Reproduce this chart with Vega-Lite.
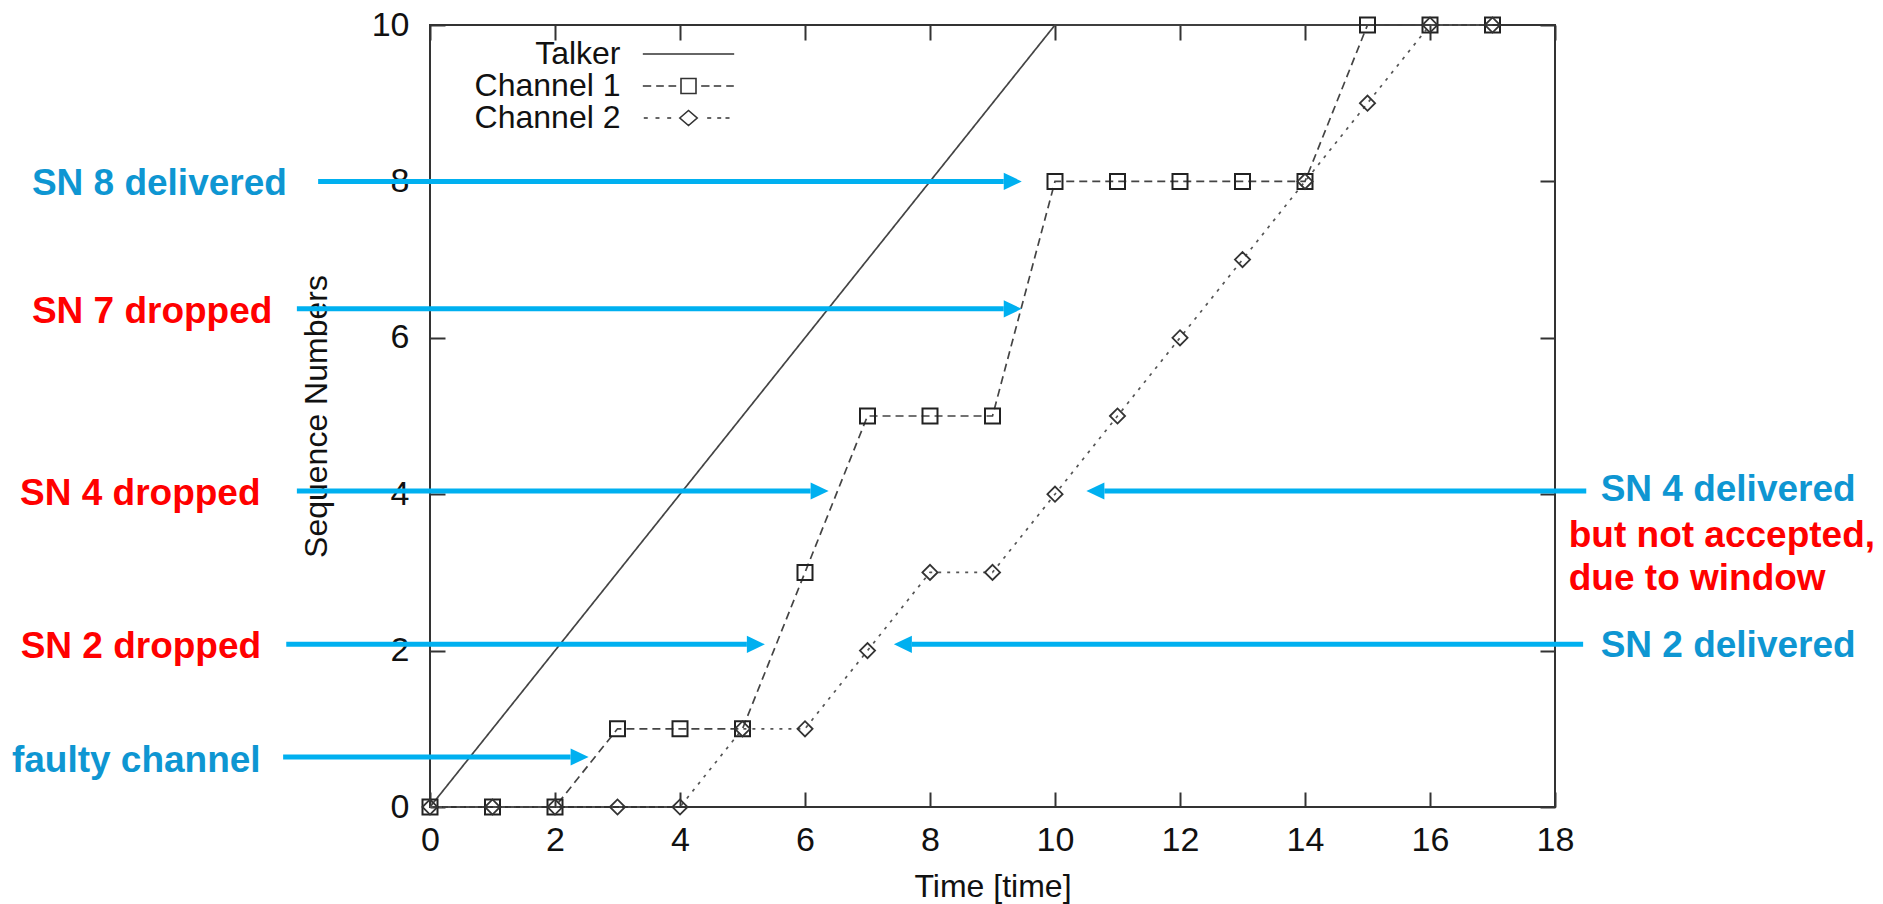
{
  "$schema": "https://vega.github.io/schema/vega-lite/v6.json",
  "width": 1125,
  "height": 782,
  "autosize": {"type": "none"},
  "padding": {"left": 430, "top": 25, "right": 328, "bottom": 97},
  "background": "white",
  "config": {
    "font": "Liberation Sans",
    "view": {"stroke": "#333333", "strokeWidth": 2},
    "axis": {
      "grid": false,
      "domain": false,
      "ticks": true,
      "tickSize": -15,
      "tickWidth": 2,
      "tickColor": "#333333",
      "labelFont": "Liberation Sans",
      "labelFontSize": 34,
      "labelColor": "#111111",
      "labelFlush": false,
      "labelOverlap": false,
      "titleFont": "Liberation Sans",
      "titleFontSize": 32,
      "titleFontWeight": "normal",
      "titleColor": "#111111"
    }
  },
  "datasets": {
    "traces": [
      {"t": 0, "sn": 0, "series": "Talker"},
      {"t": 1, "sn": 1, "series": "Talker"},
      {"t": 2, "sn": 2, "series": "Talker"},
      {"t": 3, "sn": 3, "series": "Talker"},
      {"t": 4, "sn": 4, "series": "Talker"},
      {"t": 5, "sn": 5, "series": "Talker"},
      {"t": 6, "sn": 6, "series": "Talker"},
      {"t": 7, "sn": 7, "series": "Talker"},
      {"t": 8, "sn": 8, "series": "Talker"},
      {"t": 9, "sn": 9, "series": "Talker"},
      {"t": 10, "sn": 10, "series": "Talker"},
      {"t": 11, "sn": 10, "series": "Talker"},
      {"t": 12, "sn": 10, "series": "Talker"},
      {"t": 13, "sn": 10, "series": "Talker"},
      {"t": 14, "sn": 10, "series": "Talker"},
      {"t": 15, "sn": 10, "series": "Talker"},
      {"t": 16, "sn": 10, "series": "Talker"},
      {"t": 17, "sn": 10, "series": "Talker"},
      {"t": 0, "sn": 0, "series": "Channel 1"},
      {"t": 1, "sn": 0, "series": "Channel 1"},
      {"t": 2, "sn": 0, "series": "Channel 1"},
      {"t": 3, "sn": 1, "series": "Channel 1"},
      {"t": 4, "sn": 1, "series": "Channel 1"},
      {"t": 5, "sn": 1, "series": "Channel 1"},
      {"t": 6, "sn": 3, "series": "Channel 1"},
      {"t": 7, "sn": 5, "series": "Channel 1"},
      {"t": 8, "sn": 5, "series": "Channel 1"},
      {"t": 9, "sn": 5, "series": "Channel 1"},
      {"t": 10, "sn": 8, "series": "Channel 1"},
      {"t": 11, "sn": 8, "series": "Channel 1"},
      {"t": 12, "sn": 8, "series": "Channel 1"},
      {"t": 13, "sn": 8, "series": "Channel 1"},
      {"t": 14, "sn": 8, "series": "Channel 1"},
      {"t": 15, "sn": 10, "series": "Channel 1"},
      {"t": 16, "sn": 10, "series": "Channel 1"},
      {"t": 17, "sn": 10, "series": "Channel 1"},
      {"t": 0, "sn": 0, "series": "Channel 2"},
      {"t": 1, "sn": 0, "series": "Channel 2"},
      {"t": 2, "sn": 0, "series": "Channel 2"},
      {"t": 3, "sn": 0, "series": "Channel 2"},
      {"t": 4, "sn": 0, "series": "Channel 2"},
      {"t": 5, "sn": 1, "series": "Channel 2"},
      {"t": 6, "sn": 1, "series": "Channel 2"},
      {"t": 7, "sn": 2, "series": "Channel 2"},
      {"t": 8, "sn": 3, "series": "Channel 2"},
      {"t": 9, "sn": 3, "series": "Channel 2"},
      {"t": 10, "sn": 4, "series": "Channel 2"},
      {"t": 11, "sn": 5, "series": "Channel 2"},
      {"t": 12, "sn": 6, "series": "Channel 2"},
      {"t": 13, "sn": 7, "series": "Channel 2"},
      {"t": 14, "sn": 8, "series": "Channel 2"},
      {"t": 15, "sn": 9, "series": "Channel 2"},
      {"t": 16, "sn": 10, "series": "Channel 2"},
      {"t": 17, "sn": 10, "series": "Channel 2"}
    ],
    "arrows": [
      {"from": -1.79, "to": 9.18, "y": 8.0, "dir": "right"},
      {"from": -2.13, "to": 9.18, "y": 6.37, "dir": "right"},
      {"from": -2.13, "to": 6.09, "y": 4.04, "dir": "right"},
      {"from": -2.3, "to": 5.07, "y": 2.08, "dir": "right"},
      {"from": -2.35, "to": 2.25, "y": 0.64, "dir": "right"},
      {"from": 18.5, "to": 10.79, "y": 4.04, "dir": "left"},
      {"from": 18.45, "to": 7.71, "y": 2.08, "dir": "left"}
    ],
    "notes": [
      {"label": "SN 8 delivered", "tx": -6.37, "ty": 7.97, "tone": "info"},
      {"label": "SN 7 dropped", "tx": -6.37, "ty": 6.33, "tone": "problem"},
      {"label": "SN 4 dropped", "tx": -6.56, "ty": 4.0, "tone": "problem"},
      {"label": "SN 2 dropped", "tx": -6.55, "ty": 2.04, "tone": "problem"},
      {"label": "faulty channel", "tx": -6.69, "ty": 0.59, "tone": "info"},
      {"label": "SN 4 delivered", "tx": 18.73, "ty": 4.06, "tone": "info"},
      {"label": "but not accepted,", "tx": 18.22, "ty": 3.47, "tone": "problem"},
      {"label": "due to window", "tx": 18.22, "ty": 2.91, "tone": "problem"},
      {"label": "SN 2 delivered", "tx": 18.73, "ty": 2.06, "tone": "info"}
    ]
  },
  "layer": [
    {
      "data": {"name": "traces"},
      "mark": {"type": "line", "strokeWidth": 1.7},
      "encoding": {
        "x": {
          "field": "t", "type": "quantitative",
          "scale": {"domain": [0, 18], "nice": false, "zero": false},
          "axis": {
            "orient": "bottom",
            "values": [0, 2, 4, 6, 8, 10, 12, 14, 16, 18],
            "title": "Time [time]",
            "labelPadding": 31,
            "titleX": 562.5, "titleY": 79,
            "titleBaseline": "middle", "titleAlign": "center"
          }
        },
        "y": {
          "field": "sn", "type": "quantitative",
          "scale": {"domain": [0, 10], "nice": false, "zero": false},
          "axis": {
            "orient": "left",
            "values": [0, 2, 4, 6, 8, 10],
            "title": "Sequence Numbers",
            "labelPadding": 36,
            "titleX": -113.6, "titleY": 391,
            "titleAngle": 270,
            "titleBaseline": "middle", "titleAlign": "center"
          }
        },
        "color": {
          "field": "series", "type": "nominal",
          "scale": {"domain": ["Talker", "Channel 1", "Channel 2"], "range": ["#444444", "#444444", "#555555"]},
          "legend": null
        },
        "strokeDash": {
          "field": "series", "type": "nominal",
          "scale": {"domain": ["Talker", "Channel 1", "Channel 2"], "range": [[1, 0], [8, 5], [3, 6]]},
          "legend": null
        },
        "strokeWidth": {
          "field": "series", "type": "nominal",
          "scale": {"domain": ["Talker", "Channel 1", "Channel 2"], "range": [1.6, 1.8, 2.2]},
          "legend": null
        },
        "order": {"field": "t", "type": "quantitative"}
      }
    },
    {
      "data": {"name": "traces"},
      "transform": [{"filter": "datum.series === 'Channel 1'"}],
      "mark": {"type": "point", "shape": "square", "size": 225, "filled": false, "stroke": "#222222", "strokeWidth": 2, "opacity": 1},
      "encoding": {
        "x": {
          "field": "t", "type": "quantitative",
          "scale": {"domain": [0, 18], "nice": false, "zero": false},
          "axis": {"orient": "top", "labels": false, "title": null, "values": [0, 2, 4, 6, 8, 10, 12, 14, 16, 18]}
        },
        "y": {
          "field": "sn", "type": "quantitative",
          "scale": {"domain": [0, 10], "nice": false, "zero": false},
          "axis": {"orient": "right", "labels": false, "title": null, "values": [0, 2, 4, 6, 8, 10]}
        }
      }
    },
    {
      "data": {"name": "traces"},
      "transform": [{"filter": "datum.series === 'Channel 2'"}],
      "mark": {"type": "point", "shape": "diamond", "size": 230, "filled": false, "stroke": "#333333", "strokeWidth": 1.8, "opacity": 1},
      "encoding": {
        "x": {"field": "t", "type": "quantitative", "scale": {"domain": [0, 18], "nice": false, "zero": false}, "axis": null},
        "y": {"field": "sn", "type": "quantitative", "scale": {"domain": [0, 10], "nice": false, "zero": false}, "axis": null}
      }
    },
    {
      "data": {"name": "traces"},
      "transform": [{"filter": "datum.t === 0"}],
      "mark": {"type": "point", "filled": false, "color": "#333333", "opacity": 0, "strokeWidth": 1.6},
      "encoding": {
        "shape": {
          "field": "series", "type": "nominal",
          "scale": {
            "domain": ["Talker", "Channel 1", "Channel 2"],
            "range": [
              "M-6.09,0H6.09",
              "M-6.09,0H-4.97M-4.31,0H-3.29M-2.67,0H-1.64M-1,-1H1V1H-1ZM1.69,0H2.8M3.37,0H4.36M5.03,0H6.04",
              "M-5.96,0H-5.43M-4.4,0H-3.87M-2.84,0H-2.31M-1.16,0L0,-1L1.16,0L0,1ZM2.49,0H3.03M3.83,0H4.36M4.93,0H5.47"
            ]
          },
          "legend": {
            "orient": "none",
            "legendX": 242.5,
            "legendY": 13,
            "title": null,
            "labelAlign": "right",
            "labelOffset": -84,
            "labelFont": "Liberation Sans",
            "labelFontSize": 32,
            "labelColor": "#111111",
            "labelLimit": 0,
            "symbolSize": 225,
            "symbolStrokeWidth": 1.6,
            "symbolStrokeColor": "#333333",
            "symbolFillColor": "transparent",
            "symbolOpacity": 1,
            "rowPadding": 0,
            "padding": 0
          }
        }
      }
    },
    {
      "data": {"name": "arrows"},
      "mark": {"type": "rule", "strokeWidth": 5, "color": "#00B0F0", "strokeCap": "butt"},
      "encoding": {
        "x": {"field": "from", "type": "quantitative", "scale": {"domain": [0, 18], "nice": false, "zero": false}, "axis": null},
        "x2": {"field": "to"},
        "y": {"field": "y", "type": "quantitative", "scale": {"domain": [0, 10], "nice": false, "zero": false}, "axis": null}
      }
    },
    {
      "data": {"name": "arrows"},
      "transform": [{"filter": "datum.dir === 'right'"}],
      "mark": {"type": "point", "shape": "M2,0L0,-0.95L0,0.95Z", "size": 324, "filled": true, "color": "#00B0F0", "opacity": 1, "strokeWidth": 0},
      "encoding": {
        "x": {"field": "to", "type": "quantitative", "scale": {"domain": [0, 18], "nice": false, "zero": false}, "axis": null},
        "y": {"field": "y", "type": "quantitative", "scale": {"domain": [0, 10], "nice": false, "zero": false}, "axis": null}
      }
    },
    {
      "data": {"name": "arrows"},
      "transform": [{"filter": "datum.dir === 'left'"}],
      "mark": {"type": "point", "shape": "M-2,0L0,-0.95L0,0.95Z", "size": 324, "filled": true, "color": "#00B0F0", "opacity": 1, "strokeWidth": 0},
      "encoding": {
        "x": {"field": "to", "type": "quantitative", "scale": {"domain": [0, 18], "nice": false, "zero": false}, "axis": null},
        "y": {"field": "y", "type": "quantitative", "scale": {"domain": [0, 10], "nice": false, "zero": false}, "axis": null}
      }
    },
    {
      "data": {"name": "notes"},
      "mark": {"type": "text", "align": "left", "baseline": "middle", "font": "Liberation Sans", "fontSize": 37, "fontWeight": "bold"},
      "encoding": {
        "x": {"field": "tx", "type": "quantitative", "scale": {"domain": [0, 18], "nice": false, "zero": false}, "axis": null},
        "y": {"field": "ty", "type": "quantitative", "scale": {"domain": [0, 10], "nice": false, "zero": false}, "axis": null},
        "text": {"field": "label", "type": "nominal"},
        "color": {
          "field": "tone", "type": "nominal",
          "scale": {"domain": ["info", "problem"], "range": ["#0E96D2", "#FF0000"]},
          "legend": null
        }
      }
    }
  ],
  "resolve": {
    "scale": {"color": "independent", "shape": "independent", "strokeWidth": "independent"},
    "axis": {"x": "independent", "y": "independent"}
  }
}
